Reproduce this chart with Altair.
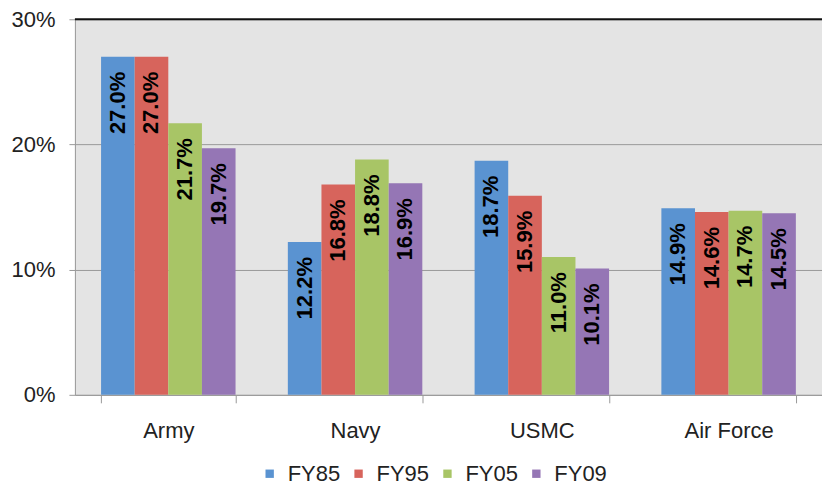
import altair as alt
import pandas as pd

branches = ["Army", "Navy", "USMC", "Air Force"]
years = ["FY85", "FY95", "FY05", "FY09"]
values = {
    "FY85": [27.0, 12.2, 18.7, 14.9],
    "FY95": [27.0, 16.8, 15.9, 14.6],
    "FY05": [21.7, 18.8, 11.0, 14.7],
    "FY09": [19.7, 16.9, 10.1, 14.5],
}
colors = ["#5a93d1", "#d7645c", "#a8c566", "#9576b5"]

rows = []
for y in years:
    for b, v in zip(branches, values[y]):
        rows.append({"branch": b, "year": y, "value": v / 100, "label": f"{v:.1f}%"})
df = pd.DataFrame(rows)

FONT = "Liberation Sans"

x = alt.X("branch:N", sort=branches, title=None,
          scale=alt.Scale(paddingInner=0.28, paddingOuter=0.14),
          axis=alt.Axis(labelAngle=0, labelFontSize=22, labelColor="#222222",
                        labelFont=FONT, tickBand="extent", tickSize=8,
                        tickColor="#999999", domainColor="#999999",
                        labelPadding=18, grid=False))
y = alt.Y("value:Q", title=None,
          scale=alt.Scale(domain=[0, 0.3]),
          axis=alt.Axis(format=".0%", values=[0, 0.1, 0.2, 0.3], labelFontSize=22,
                        labelColor="#222222", labelFont=FONT, tickSize=6,
                        tickColor="#999999", domainColor="#999999",
                        labelPadding=14, gridColor="#9a9a9a", gridWidth=1))
xo = alt.XOffset("year:N", sort=years)
color = alt.Color("year:N", sort=years,
                  scale=alt.Scale(domain=years, range=colors),
                  legend=alt.Legend(orient="none", legendX=184, legendY=444,
                                    direction="horizontal", title=None,
                                    symbolType="square", symbolSize=70,
                                    symbolStrokeWidth=0, labelFontSize=22,
                                    labelFont=FONT, labelColor="#222222",
                                    labelOffset=7, columnPadding=7))

bars = alt.Chart(df).mark_bar(opacity=1).encode(x=x, xOffset=xo, y=y, color=color)

text = alt.Chart(df).mark_text(angle=270, align="right", baseline="middle",
                               dx=-15, fontSize=22, fontWeight="bold",
                               font=FONT, color="#000000").encode(
    x=alt.X("branch:N", sort=branches), xOffset=xo, y="value:Q", text="label:N")

top = alt.Chart(pd.DataFrame({"v": [0.3]})).mark_rule(color="#111111", strokeWidth=2).encode(
    y="v:Q")

chart = alt.layer(bars, text, top).properties(
    width=748, height=376,
    autosize=alt.AutoSizeParams(type="none"),
    padding={"left": 67, "top": 11, "right": 0, "bottom": 93},
    background="white",
).configure_view(fill="#e4e4e4", stroke=None)

chart.save("out.html", embed_options={"renderer": "svg", "actions": False})
